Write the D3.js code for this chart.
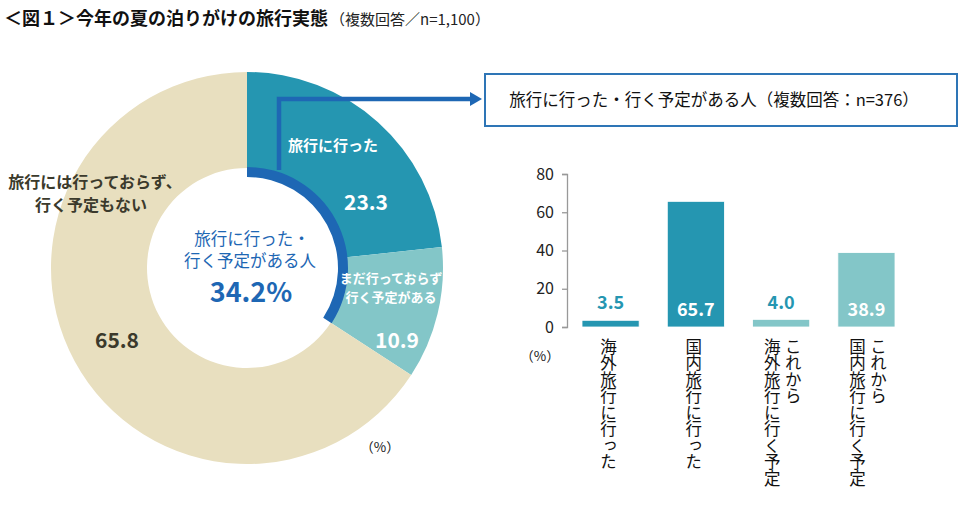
<!DOCTYPE html>
<html><head><meta charset="utf-8">
<script src="https://cdn.jsdelivr.net/npm/d3@7"></script>
<style>
html,body{margin:0;padding:0;background:#fff;}
svg{display:block;font-family:"Noto Sans CJK JP","Noto Sans",sans-serif;}
</style></head>
<body>
<svg id="c" width="960" height="507"></svg>
<script>
// ---- data ----
const donutLabels = ["旅行に行った", "まだ行っておらず行く予定がある", "旅行には行っておらず、行く予定もない"];
const donutValues = [23.3, 10.9, 65.8];
const donutTotalLabel = 34.2;
const barCategories = [["海外旅行に行った"], ["国内旅行に行った"], ["これから", "海外旅行に行く予定"], ["これから", "国内旅行に行く予定"]];
const barValues = [3.5, 65.7, 4.0, 38.9];
const yTicks = [0, 20, 40, 60, 80];

const C_DARK = "#2596b1", C_LIGHT = "#83c6c8", C_BEIGE = "#e8dfbf", C_BLUE = "#1e67b4", C_TXT = "#3b3a2c";
const svg = d3.select("#c");

// ---- title ----
const t = svg.append("text").attr("x", 4).attr("y", 25);
t.append("tspan").attr("font-size", 18).attr("font-weight", "bold").attr("fill", "#111").text("＜図１＞今年の夏の泊りがけの旅行実態");
t.append("tspan").attr("font-size", 15).attr("fill", "#222").attr("dx", 2).text("（複数回答／n=1,100）");

// ---- donut ----
const cx = 247, cy = 268, rO = 196, rI = 100;
const g = svg.append("g").attr("transform", `translate(${cx},${cy})`);
const pie = d3.pie().sort(null).value(d => d)(donutValues);
const arc = d3.arc().innerRadius(rI).outerRadius(rO);
const colors = [C_DARK, C_LIGHT, C_BEIGE];
g.selectAll("path.s").data(pie).join("path").attr("class", "s")
  .attr("d", arc).attr("fill", (d, i) => colors[i]);

// highlight band for 34.2%
const a342 = 2 * Math.PI * donutTotalLabel / 100;
g.append("path").attr("d", d3.arc().innerRadius(91).outerRadius(101).startAngle(0).endAngle(a342)())
  .attr("fill", C_BLUE);

// connector
svg.append("path").attr("d", "M279,170 V99 H472").attr("fill", "none").attr("stroke", C_BLUE).attr("stroke-width", 4.5);
svg.append("path").attr("d", "M470,92 L482,99 L470,106 Z").attr("fill", C_BLUE);

// slice labels
function txt(x, y, s, opt) {
  const e = svg.append("text").attr("x", x).attr("y", y).attr("text-anchor", "middle").text(s);
  for (const k in opt) e.attr(k, opt[k]);
  return e;
}
txt(333, 151, donutLabels[0], {"font-size": 15, "font-weight": "bold", fill: "#fff"});
txt(366, 210, donutValues[0].toFixed(1), {"font-size": 21, "font-weight": "bold", fill: "#fff"});
txt(391, 283, "まだ行っておらず", {"font-size": 13, "font-weight": "bold", fill: "#fff"});
txt(391, 302, "行く予定がある", {"font-size": 13, "font-weight": "bold", fill: "#fff"});
txt(397, 348, donutValues[1].toFixed(1), {"font-size": 21, "font-weight": "bold", fill: "#fff"});
txt(95, 188, "旅行には行っておらず、", {"font-size": 16, "font-weight": "bold", fill: C_TXT});
txt(91, 211, "行く予定もない", {"font-size": 16, "font-weight": "bold", fill: C_TXT});
txt(117, 348, donutValues[2].toFixed(1), {"font-size": 21, "font-weight": "bold", fill: C_TXT});
txt(252, 245, "旅行に行った・", {"font-size": 16.5, fill: C_BLUE});
txt(250, 267, "行く予定がある人", {"font-size": 16.5, fill: C_BLUE});
txt(251, 302, donutTotalLabel.toFixed(1) + "%", {"font-size": 27, "font-weight": "bold", fill: C_BLUE});
txt(380, 452, "（%）", {"font-size": 13.5, fill: "#222"});

// ---- box ----
svg.append("rect").attr("x", 485).attr("y", 74).attr("width", 472).attr("height", 52)
  .attr("fill", "#fff").attr("stroke", "#2e75b6").attr("stroke-width", 2);
txt(714, 106, "旅行に行った・行く予定がある人（複数回答：n=376）", {"font-size": 16.5, fill: "#111"});

// ---- bar chart ----
const x = d3.scaleBand().domain(d3.range(barValues.length)).range([567, 910]).paddingInner(0.33).paddingOuter(0.176);
const y = d3.scaleLinear().domain([0, 80]).range([327, 174]);
const ax = svg.append("g").attr("transform", "translate(567,0)")
  .call(d3.axisLeft(y).tickValues(yTicks).tickSize(5).tickPadding(8));
ax.select(".domain").attr("stroke", "#999").attr("stroke-width", 1.3);
ax.selectAll(".tick line").attr("stroke", "#999").attr("stroke-width", 1.3);
ax.selectAll(".tick text").attr("font-size", 16).attr("fill", "#222").attr("font-family", "Noto Sans CJK JP");

const barColors = [C_DARK, C_DARK, C_LIGHT, C_LIGHT];
svg.selectAll("rect.b").data(barValues).join("rect").attr("class", "b")
  .attr("x", (d, i) => x(i)).attr("width", x.bandwidth())
  .attr("y", d => y(d)).attr("height", d => y(0) - y(d))
  .attr("fill", (d, i) => barColors[i]).attr("stroke", "#fff").attr("stroke-width", 0.8);

svg.selectAll("text.v").data(barValues).join("text").attr("class", "v")
  .attr("x", (d, i) => x(i) + x.bandwidth() / 2)
  .attr("y", d => d > 20 ? y(0) - 11 : y(0) - 18)
  .attr("text-anchor", "middle").attr("font-size", 18).attr("font-weight", "bold")
  .attr("fill", d => d > 20 ? "#fff" : C_DARK)
  .text(d => d.toFixed(1));

txt(540, 361, "（%）", {"font-size": 13.5, fill: "#222"});

// vertical category labels
barCategories.forEach((lines, i) => {
  const c = x(i) + x.bandwidth() / 2;
  const n = lines.length;
  lines.forEach((s, j) => {
    const off = (n === 1) ? -2 : (j === 0 ? 12 : -9);
    svg.append("text").attr("x", c + off).attr("y", 338)
      .attr("style", "writing-mode: vertical-rl;")
      .attr("font-size", 16.5).attr("fill", "#111").text(s);
  });
});
</script>
</body></html>
